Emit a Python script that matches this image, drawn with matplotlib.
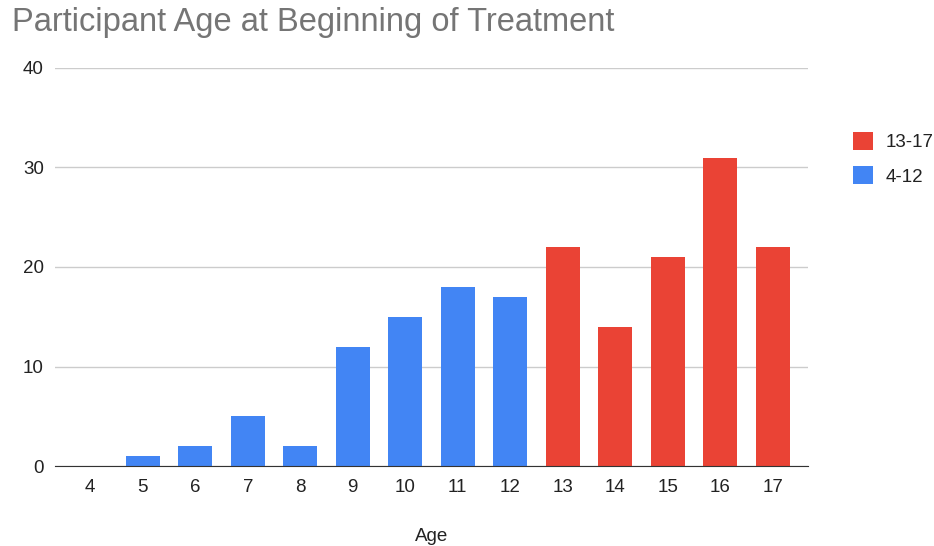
import matplotlib
matplotlib.use("Agg")
import matplotlib.pyplot as plt
from matplotlib.patches import Patch

plt.rcParams['font.family'] = ['Liberation Sans', 'DejaVu Sans']

ages = [4, 5, 6, 7, 8, 9, 10, 11, 12, 13, 14, 15, 16, 17]
counts = [0, 1, 2, 5, 2, 12, 15, 18, 17, 22, 14, 21, 31, 22]
groups = ['4-12'] * 9 + ['13-17'] * 5
group_colors = {'13-17': '#EA4335', '4-12': '#4285F4'}
legend_order = ['13-17', '4-12']
yticks = [0, 10, 20, 30, 40]

fig = plt.figure(figsize=(9.34, 5.46), dpi=100)
ax = fig.add_axes([0.059, 0.1465, 0.806, 0.729])

colors = [group_colors[g] for g in groups]
ax.bar(ages, counts, width=0.65, color=colors, zorder=3)

ax.set_xlim(3.33, 17.67)
ax.set_ylim(0, 40)
ax.set_yticks(yticks)
ax.set_xticks(ages)
ax.set_xticklabels([str(a) for a in ages])
ax.grid(axis='y', color='#cccccc', linewidth=1, zorder=0)
for s in ['top', 'right', 'left']:
    ax.spines[s].set_visible(False)
ax.spines['bottom'].set_color('#333333')
ax.spines['bottom'].set_zorder(4)
ax.tick_params(axis='both', length=0, labelsize=13.5, colors='#222222')
ax.tick_params(axis='y', pad=8)
ax.tick_params(axis='x', pad=9.5)

ax.set_xlabel('Age', fontsize=13.5, color='#222222', labelpad=23)

fig.text(0.0128, 0.958, 'Participant Age at Beginning of Treatment', fontsize=23.5,
         color='#757575', ha='left', va='center')

handles = [Patch(facecolor=group_colors[g], edgecolor='none') for g in legend_order]
fig.legend(handles, legend_order, loc='upper left', bbox_to_anchor=(0.913, 0.758),
           frameon=False, fontsize=13.5, handlelength=1.07, handleheight=1.07,
           labelspacing=0.8, handletextpad=0.7, borderpad=0, borderaxespad=0,
           labelcolor='#222222')

fig.savefig('out.png', dpi=100)
